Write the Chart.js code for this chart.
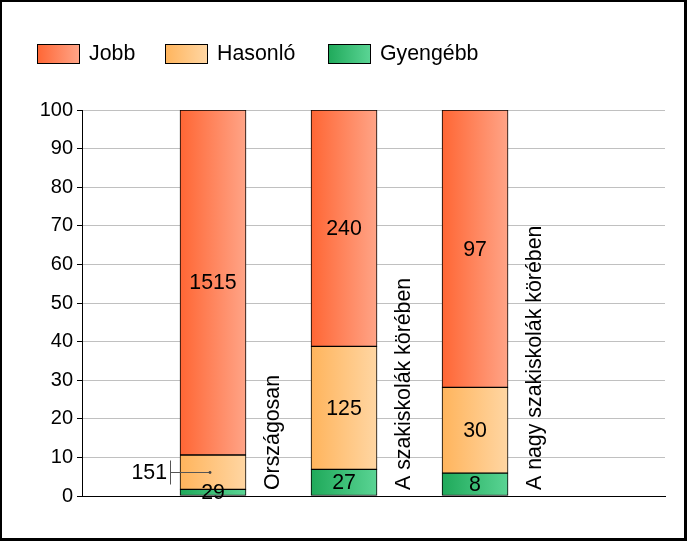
<!DOCTYPE html>
<html><head><meta charset="utf-8">
<script src="https://cdn.jsdelivr.net/npm/chart.js@4.4.0/dist/chart.umd.min.js"></script>
<style>html,body{margin:0;padding:0;background:#fff;overflow:hidden}</style>
</head><body>
<canvas id="c" width="687" height="541"></canvas>
<script>
const categories = ['Országosan', 'A szakiskolák körében', 'A nagy szakiskolák körében'];
const seriesNames = ['Jobb', 'Hasonló', 'Gyengébb'];
const jobb = [1515, 240, 97];
const hasonlo = [151, 125, 30];
const gyengebb = [29, 27, 8];
const yTickStep = 10;
const yMax = 100;

const FAMILY = '"Liberation Sans", Arial, sans-serif';
const FONT = '21.33px ' + FAMILY;
const gradColors = {
  'Jobb': ['#FF6634', '#FFA487'],
  'Hasonló': ['#FFB45C', '#FFD6A3'],
  'Gyengébb': ['#1FA95A', '#5AD494']
};
const totals = categories.map((_, i) => jobb[i] + hasonlo[i] + gyengebb[i]);
const pct = arr => arr.map((v, i) => ({x: i + 1, y: v / totals[i] * 100, count: v}));

function barGrad(name) {
  return function(ctx) {
    const c = gradColors[name];
    const chart = ctx.chart;
    if (!chart.chartArea || ctx.type !== 'data' || !chart.scales.x) return c[0];
    const px = chart.scales.x.getPixelForValue(ctx.raw.x);
    const g = chart.ctx.createLinearGradient(px - 33, 0, px + 33, 0);
    g.addColorStop(0, c[0]); g.addColorStop(1, c[1]);
    return g;
  };
}

const calloutPoints = [[1, 0]]; // dataset index, data index drawn outside with leader

const datasets = [
  {label: 'Gyengébb', data: pct(gyengebb)},
  {label: 'Hasonló', data: pct(hasonlo)},
  {label: 'Jobb', data: pct(jobb)}
].map(d => Object.assign(d, {
  backgroundColor: barGrad(d.label),
  borderColor: '#000', borderWidth: 1, borderSkipped: false,
  barThickness: 66
}));

const extras = {
  id: 'extras',
  afterDatasetsDraw(chart) {
    const ctx = chart.ctx;
    ctx.save();
    ctx.font = FONT; ctx.fillStyle = '#000';
    chart.data.datasets.forEach((ds, di) => {
      const meta = chart.getDatasetMeta(di);
      meta.data.forEach((el, i) => {
        const cy = (el.y + el.base) / 2;
        const txt = String(ds.data[i].count);
        const isCallout = calloutPoints.some(p => p[0] === di && p[1] === i);
        if (isCallout) {
          const lx = el.x - 43;
          const ly = Math.round(cy) + 0.5;
          ctx.strokeStyle = '#555'; ctx.lineWidth = 1;
          ctx.beginPath();
          ctx.moveTo(lx + 0.5, ly - 12); ctx.lineTo(lx + 0.5, ly + 12);
          ctx.moveTo(lx, ly); ctx.lineTo(el.x - 3, ly);
          ctx.stroke();
          ctx.fillStyle = '#444';
          ctx.beginPath(); ctx.arc(el.x - 3, ly, 1.4, 0, Math.PI * 2); ctx.fill();
          ctx.fillStyle = '#000';
          ctx.textAlign = 'right'; ctx.textBaseline = 'middle';
          ctx.fillText(txt, lx - 3, cy + 1);
        } else {
          ctx.textAlign = 'center'; ctx.textBaseline = 'middle';
          ctx.fillText(txt, el.x, cy + 1);
        }
      });
    });
    // rotated category labels
    const xs = chart.scales.x, ys = chart.scales.y;
    categories.forEach((cat, i) => {
      const px = xs.getPixelForValue(i + 1);
      ctx.save();
      ctx.translate(px + 60, ys.bottom - 6);
      ctx.rotate(-Math.PI / 2);
      ctx.textAlign = 'left'; ctx.textBaseline = 'middle';
      ctx.fillText(cat, 0, 0);
      ctx.restore();
    });
    ctx.restore();
  },
  afterDraw(chart) {
    const ctx = chart.ctx;
    ctx.save();
    // legend
    const legendX = [37, 165, 328];
    seriesNames.forEach((name, i) => {
      const x = legendX[i], y = 44, w = 42, h = 19;
      const g = ctx.createLinearGradient(x, 0, x + w, 0);
      g.addColorStop(0, gradColors[name][0]); g.addColorStop(1, gradColors[name][1]);
      ctx.fillStyle = g; ctx.fillRect(x, y, w, h);
      ctx.strokeStyle = '#000'; ctx.lineWidth = 1;
      ctx.strokeRect(x + 0.5, y + 0.5, w, h);
      ctx.fillStyle = '#000'; ctx.font = FONT;
      ctx.textAlign = 'left'; ctx.textBaseline = 'middle';
      ctx.fillText(name, x + w + 10, y + h / 2 + 1);
    });
    // frame
    ctx.fillStyle = '#000';
    ctx.fillRect(0, 0, 687, 2);
    ctx.fillRect(0, 0, 2, 541);
    ctx.fillRect(684, 0, 3, 541);
    ctx.fillRect(0, 538, 687, 3);
    ctx.restore();
  }
};

new Chart(document.getElementById('c'), {
  type: 'bar',
  data: {datasets},
  options: {
    responsive: false, animation: false,
    layout: {padding: {top: 110, bottom: 45, left: 0, right: 22}},
    plugins: {legend: {display: false}, tooltip: {enabled: false}},
    scales: {
      x: {
        type: 'linear', min: 0, max: 4.45, stacked: true, offset: false,
        ticks: {display: false}, grid: {display: false, drawTicks: false, offset: false},
        border: {display: true, color: '#000', width: 1},
        afterFit: s => { s.height = 0; }
      },
      y: {
        min: 0, max: yMax, stacked: true,
        ticks: {stepSize: yTickStep, color: '#000', font: {family: FAMILY, size: 20}, padding: 4},
        grid: {color: '#C0C0C0', tickLength: 5, tickColor: '#000'},
        border: {display: true, color: '#000', width: 1},
        afterFit: s => { s.width = 82; }
      }
    }
  },
  plugins: [extras]
});
</script>
</body></html>
